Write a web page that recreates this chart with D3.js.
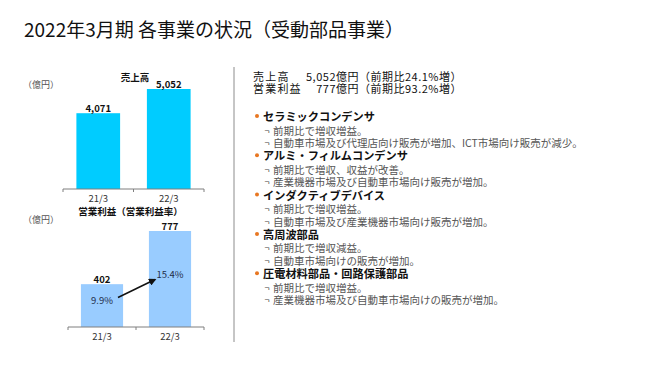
<!DOCTYPE html>
<html><head><meta charset="utf-8">
<script src="https://cdn.jsdelivr.net/npm/d3@7"></script>
<style>
html,body{margin:0;padding:0;background:#fff;}
svg{display:block;font-family:"Noto Sans CJK JP","Noto Sans",sans-serif;}
</style></head>
<body>
<script>
const title = "2022年3月期 各事業の状況（受動部品事業）";
const periods = ["21/3", "22/3"];
const sales = [4071, 5052];
const opIncome = [402, 777];
const opMargin = [9.9, 15.4];
const unitLabel = "（億円）";
const salesTitle = "売上高";
const opTitle = "営業利益（営業利益率）";
const summaryLabels = ["売上高", "営業利益"];
const summaryValues = ["5,052億円（前期比24.1%増）", "777億円（前期比93.2%増）"];
const segments = ["セラミックコンデンサ", "アルミ・フィルムコンデンサ", "インダクティブデバイス", "高周波部品", "圧電材料部品・回路保護部品"];
const segmentNotes = [
  ["前期比で増収増益。", "自動車市場及び代理店向け販売が増加、ICT市場向け販売が減少。"],
  ["前期比で増収、収益が改善。", "産業機器市場及び自動車市場向け販売が増加。"],
  ["前期比で増収増益。", "自動車市場及び産業機器市場向け販売が増加。"],
  ["前期比で増収減益。", "自動車市場向けの販売が増加。"],
  ["前期比で増収増益。", "産業機器市場及び自動車市場向けの販売が増加。"]
];

const W = 660, H = 371;
const svg = d3.select("body").append("svg").attr("width", W).attr("height", H);

// Title
svg.append("text").attr("x", 24).attr("y", 28.5).attr("dominant-baseline", "central")
  .attr("font-size", 19).attr("fill", "#111").text(title);

// Divider
svg.append("line").attr("x1", 234).attr("x2", 234).attr("y1", 67).attr("y2", 342)
  .attr("stroke", "#8c8c8c").attr("stroke-width", 1);

function drawAxis(g, x, y0, x0, x1) {
  g.append("line").attr("x1", x0).attr("x2", x1).attr("y1", y0).attr("y2", y0)
    .attr("stroke", "#7f7f7f").attr("stroke-width", 1);
  const ticks = [x0, (x0 + x1) / 2, x1];
  ticks.forEach(t => g.append("line").attr("x1", t).attr("x2", t).attr("y1", y0).attr("y2", y0 + 3)
    .attr("stroke", "#7f7f7f").attr("stroke-width", 1));
  g.selectAll("text.cat").data(periods).enter().append("text").attr("class", "cat")
    .attr("x", d => x(d) + x.bandwidth() / 2).attr("y", y0 + 9).attr("dominant-baseline", "central")
    .attr("text-anchor", "middle").attr("font-size", 9.5).attr("fill", "#333").text(d => d);
}

// ---- Sales chart ----
const gS = svg.append("g");
const xS = d3.scaleBand().domain(periods).range([63, 204]).paddingInner(0.38).paddingOuter(0.19);
const yS = d3.scaleLinear().domain([1000, 6000]).range([189, 189 - 5000 * 100 / 4052]);
gS.selectAll("rect").data(sales).enter().append("rect")
  .attr("x", (d, i) => xS(periods[i])).attr("width", xS.bandwidth())
  .attr("y", d => yS(d)).attr("height", d => yS(1000) - yS(d)).attr("fill", "#00CCFF");
gS.selectAll("text.val").data(sales).enter().append("text").attr("class", "val")
  .attr("x", (d, i) => xS(periods[i]) + xS.bandwidth() / 2).attr("y", d => yS(d) - 5)
  .attr("dominant-baseline", "central").attr("text-anchor", "middle")
  .attr("font-size", 9.5).attr("font-weight", "bold").attr("fill", "#111").text(d => d3.format(",")(d));
drawAxis(gS, xS, 189, 63, 204);
gS.append("text").attr("x", 135).attr("y", 76.5).attr("dominant-baseline", "central").attr("text-anchor", "middle")
  .attr("font-size", 9.5).attr("font-weight", "bold").attr("fill", "#111").text(salesTitle);
gS.append("text").attr("x", 41).attr("y", 84).attr("dominant-baseline", "central").attr("text-anchor", "middle")
  .attr("font-size", 9).attr("fill", "#555").text(unitLabel);
svg.append("text").attr("x", 130.5).attr("y", 210.5).attr("dominant-baseline", "central").attr("text-anchor", "middle")
  .attr("font-size", 9.5).attr("font-weight", "bold").attr("fill", "#111").text(opTitle);

// ---- Operating income chart ----
const gO = svg.append("g");
const xO = d3.scaleBand().domain(periods).range([68, 204]).paddingInner(0.38).paddingOuter(0.19);
const yO = d3.scaleLinear().domain([100, 900]).range([327, 327 - 800 * 96 / 677]);
const yR = d3.scaleLinear().domain([0, 20]).range([349, 251]);
gO.selectAll("rect").data(opIncome).enter().append("rect")
  .attr("x", (d, i) => xO(periods[i])).attr("width", xO.bandwidth())
  .attr("y", d => yO(d)).attr("height", d => yO(100) - yO(d)).attr("fill", "#99CCFF");
gO.selectAll("text.val").data(opIncome).enter().append("text").attr("class", "val")
  .attr("x", (d, i) => xO(periods[i]) + xO.bandwidth() / 2).attr("y", d => yO(d) - 5)
  .attr("dominant-baseline", "central").attr("text-anchor", "middle")
  .attr("font-size", 9.5).attr("font-weight", "bold").attr("fill", "#111").text(d => d);
gO.selectAll("text.pct").data(opMargin).enter().append("text").attr("class", "pct")
  .attr("x", (d, i) => xO(periods[i]) + xO.bandwidth() / 2).attr("y", d => yR(d))
  .attr("dominant-baseline", "central").attr("text-anchor", "middle")
  .attr("font-size", 9.5).attr("fill", "#1f2d4a").text(d => d.toFixed(1) + "%");
drawAxis(gO, xO, 327, 68, 204);
gO.append("text").attr("x", 41).attr("y", 219).attr("dominant-baseline", "central").attr("text-anchor", "middle")
  .attr("font-size", 9).attr("fill", "#555").text(unitLabel);

// arrow
const defs = svg.append("defs");
defs.append("marker").attr("id", "ah").attr("viewBox", "0 0 10 10").attr("refX", 8).attr("refY", 5)
  .attr("markerWidth", 5).attr("markerHeight", 5).attr("orient", "auto")
  .append("path").attr("d", "M0,0 L10,5 L0,10 z").attr("fill", "#111");
const ax0 = xO(periods[0]) + xO.bandwidth() / 2 + 16, ay0 = yR(opMargin[0]) - 3;
const ax1 = xO(periods[1]) + xO.bandwidth() / 2 - 15, ay1 = yR(opMargin[1]) + 6;
gO.append("line").attr("x1", ax0).attr("y1", ay0).attr("x2", ax1).attr("y2", ay1)
  .attr("stroke", "#111").attr("stroke-width", 1.5).attr("marker-end", "url(#ah)");

// ---- Right text ----
const gT = svg.append("g");
summaryLabels.forEach((l, i) => {
  gT.append("text").attr("x", 253).attr("y", 76.3 + i * 11.6).attr("dominant-baseline", "central")
    .attr("font-size", 11).attr("letter-spacing", 1.2).attr("fill", "#111").text(l);
  gT.append("text").attr("x", 462).attr("y", 76.3 + i * 11.6).attr("dominant-baseline", "central")
    .attr("text-anchor", "end").attr("font-size", 11).attr("letter-spacing", 0.5).attr("fill", "#111").text(summaryValues[i]);
});
segments.forEach((s, i) => {
  const y = 116 + i * 39.3;
  gT.append("circle").attr("cx", 257).attr("cy", y).attr("r", 2).attr("fill", "#E87722");
  gT.append("text").attr("x", 263).attr("y", y).attr("dominant-baseline", "central")
    .attr("font-size", 11.2).attr("font-weight", "bold").attr("fill", "#111").text(s);
  segmentNotes[i].forEach((n, j) => {
    const yy = y + 14 + j * 12.5;
    gT.append("text").attr("x", 264.5).attr("y", yy).attr("dominant-baseline", "central")
      .attr("font-size", 9).attr("fill", "#444").text("¬");
    gT.append("text").attr("x", 273).attr("y", yy).attr("dominant-baseline", "central")
      .attr("font-size", 10.5).attr("fill", "#555").text(n);
  });
});
</script>
</body></html>
